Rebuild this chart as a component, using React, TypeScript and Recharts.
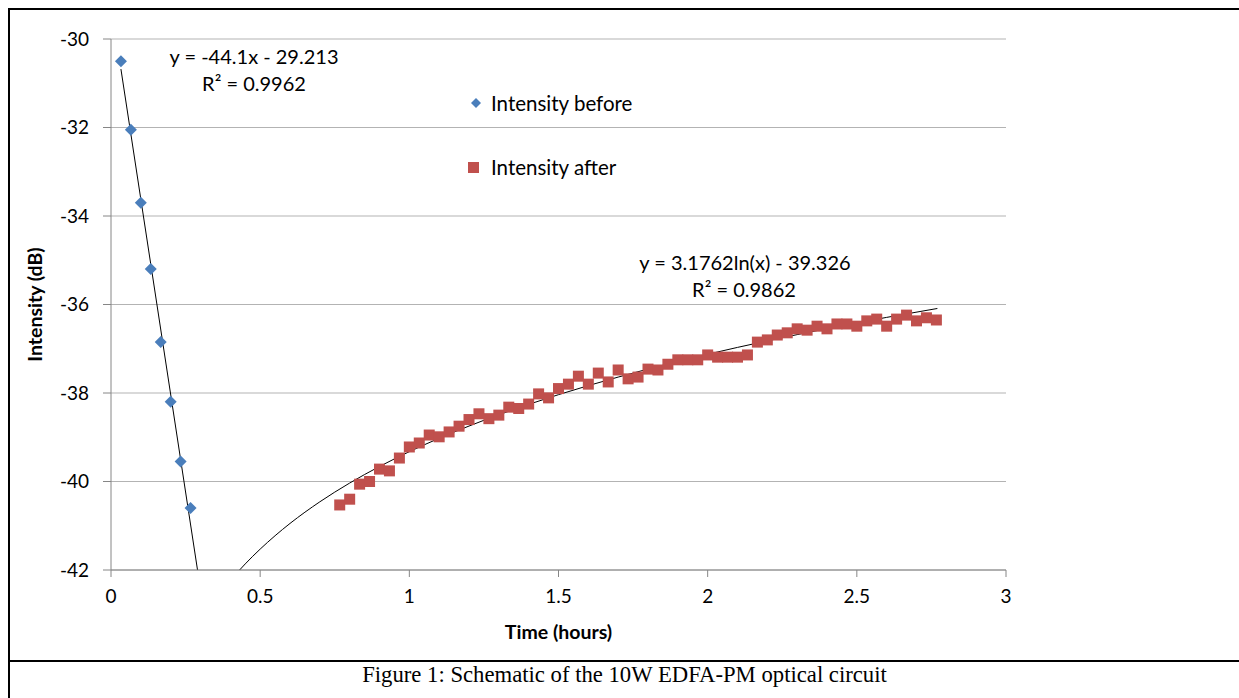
import React from 'react';
import { ComposedChart, Scatter, Line, XAxis, YAxis, CartesianGrid, Legend } from 'recharts';

// readings taken every 2 minutes
const beforeMinutes = [2, 4, 6, 8, 10, 12, 14, 16];
const beforeIntensity = [-30.5, -32.05, -33.7, -35.2, -36.85, -38.2, -39.55, -40.6];

const afterMinutes = [
  46, 48, 50, 52, 54, 56, 58, 60, 62, 64, 66, 68, 70, 72, 74, 76, 78, 80, 82, 84,
  86, 88, 90, 92, 94, 96, 98, 100, 102, 104, 106, 108, 110, 112, 114, 116, 118, 120, 122, 124,
  126, 128, 130, 132, 134, 136, 138, 140, 142, 144, 146, 148, 150, 152, 154, 156, 158, 160, 162, 164,
  166,
];
const afterIntensity = [
  -40.53, -40.4, -40.06, -40.0, -39.72, -39.76, -39.47, -39.22, -39.13, -38.95,
  -38.99, -38.88, -38.75, -38.6, -38.47, -38.58, -38.5, -38.32, -38.35, -38.25,
  -38.02, -38.11, -37.9, -37.8, -37.62, -37.8, -37.55, -37.75, -37.48, -37.68,
  -37.64, -37.46, -37.48, -37.35, -37.25, -37.25, -37.25, -37.14, -37.19, -37.19,
  -37.19, -37.14, -36.85, -36.8, -36.69, -36.64, -36.55, -36.58, -36.49, -36.55,
  -36.44, -36.44, -36.49, -36.37, -36.33, -36.49, -36.33, -36.24, -36.37, -36.3,
  -36.35,
];

// trendline y = -44.1x - 29.213, clipped at -42
const linTrendX = [0.0333, 0.29];
const linTrendY = [-30.68, -42.0];

// trendline y = 3.1762ln(x) - 39.326
const logTrendX = [0.431, 0.45, 0.5, 0.55, 0.6, 0.7, 0.8, 0.9, 1.0, 1.2, 1.4, 1.6, 1.8, 2.0, 2.2, 2.4, 2.6, 2.77];
const logTrendY = [-42.0, -41.862, -41.528, -41.225, -40.948, -40.459, -40.035, -39.661, -39.326, -38.747, -38.257, -37.833, -37.459, -37.124, -36.822, -36.545, -36.291, -36.09];

const xTicks = [0, 0.5, 1, 1.5, 2, 2.5, 3];
const yTicks = [-42, -40, -38, -36, -34, -32, -30];

const beforeData = beforeMinutes.map((m, i) => ({ x: m / 60, y: beforeIntensity[i] }));
const afterData = afterMinutes.map((m, i) => ({ x: m / 60, y: afterIntensity[i] }));
const linTrend = linTrendX.map((x, i) => ({ x, y: linTrendY[i] }));
const logTrend = logTrendX.map((x, i) => ({ x, y: logTrendY[i] }));

const FONT = 'Lato, "Open Sans", sans-serif';
const BLUE = '#4a7ebb';
const RED = '#c0504d';

const Diamond = (props: any) => {
  const { cx, cy } = props;
  const r = 6;
  return <path d={`M${cx},${cy - r}L${cx + r},${cy}L${cx},${cy + r}L${cx - r},${cy}Z`} fill={BLUE} />;
};

const Square = (props: any) => {
  const { cx, cy } = props;
  const s = 11;
  return <rect x={cx - s / 2} y={cy - s / 2} width={s} height={s} fill={RED} />;
};

const LegendBox = () => (
  <div style={{ fontFamily: FONT, fontSize: 20.5, color: '#000' }}>
    <div style={{ display: 'flex', alignItems: 'center', height: 24 }}>
      <svg width={16} height={16} style={{ marginRight: 7 }}>
        <path d="M8,3L13,8L8,13L3,8Z" fill={BLUE} />
      </svg>
      Intensity before
    </div>
    <div style={{ display: 'flex', alignItems: 'center', height: 24, marginTop: 40 }}>
      <svg width={16} height={16} style={{ marginRight: 7 }}>
        <rect x={0} y={3} width={11} height={11} fill={RED} />
      </svg>
      Intensity after
    </div>
  </div>
);

const eqStyle = (cx: number, cy: number): React.CSSProperties => ({
  position: 'absolute',
  left: cx - 150,
  top: cy - 12,
  width: 300,
  textAlign: 'center',
  fontFamily: FONT,
  fontSize: 20,
  lineHeight: '24px',
  color: '#000',
});

export default function App() {
  return (
    <div style={{ position: 'absolute', left: 0, top: 0, width: 1239, height: 698, overflow: 'hidden', background: '#fff' }}>
      <div style={{ position: 'absolute', left: 8, top: 8, width: 1240, height: 700, borderLeft: '2px solid #000', borderTop: '2px solid #000' }} />
      <div style={{ position: 'absolute', left: 8, top: 660, width: 1240, height: 2, background: '#000' }} />
      <div style={{ position: 'absolute', left: 5, top: 662, width: 1239, textAlign: 'center', fontFamily: '"Liberation Serif", "Times New Roman", serif', fontSize: 22.7, lineHeight: '26px' }}>
        Figure 1: Schematic of the 10W EDFA-PM optical circuit
      </div>

      <div style={{ position: 'absolute', left: 0, top: 0 }}>
        <ComposedChart width={1239} height={698} margin={{ top: 39, right: 233, bottom: 98, left: 51 }}>
          <CartesianGrid vertical={false} stroke="#b3b3b3" />
          <XAxis
            type="number"
            dataKey="x"
            domain={[0, 3]}
            ticks={xTicks}
            allowDataOverflow
            height={30}
            stroke="#868686"
            tickSize={7}
            tickMargin={13}
            tick={{ fill: '#000', fontSize: 19, fontFamily: FONT }}
            label={{ value: 'Time (hours)', position: 'bottom', offset: 25, style: { fill: '#000', fontSize: 19.5, fontWeight: 'bold', fontFamily: FONT } }}
          />
          <YAxis
            type="number"
            dataKey="y"
            domain={[-42, -30]}
            ticks={yTicks}
            allowDataOverflow
            width={60}
            stroke="#868686"
            tickSize={8}
            tickMargin={14}
            tick={{ fill: '#000', fontSize: 19, fontFamily: FONT }}
            label={{ value: 'Intensity (dB)', angle: -90, position: 'left', offset: 16, style: { fill: '#000', fontSize: 19.5, fontWeight: 'bold', fontFamily: FONT, textAnchor: 'middle' } }}
          />
          <Legend
            layout="vertical"
            align="center"
            verticalAlign="middle"
            content={() => <LegendBox />}
            wrapperStyle={{ left: 468, top: 91, width: 240 }}
          />
          <Scatter name="Intensity before" data={beforeData} dataKey="y" shape={<Diamond />} isAnimationActive={false} />
          <Scatter name="Intensity after" data={afterData} dataKey="y" shape={<Square />} isAnimationActive={false} />
          <Line data={linTrend} dataKey="y" type="linear" stroke="#000" strokeWidth={1} dot={false} activeDot={false} legendType="none" isAnimationActive={false} />
          <Line data={logTrend} dataKey="y" type="monotone" stroke="#000" strokeWidth={1} dot={false} activeDot={false} legendType="none" isAnimationActive={false} />
        </ComposedChart>
      </div>

      <div style={eqStyle(254, 56)}>y = -44.1x - 29.213</div>
      <div style={eqStyle(254, 83)}>R² = 0.9962</div>
      <div style={eqStyle(745, 262)}>y = 3.1762ln(x) - 39.326</div>
      <div style={eqStyle(744, 289)}>R² = 0.9862</div>
    </div>
  );
}
